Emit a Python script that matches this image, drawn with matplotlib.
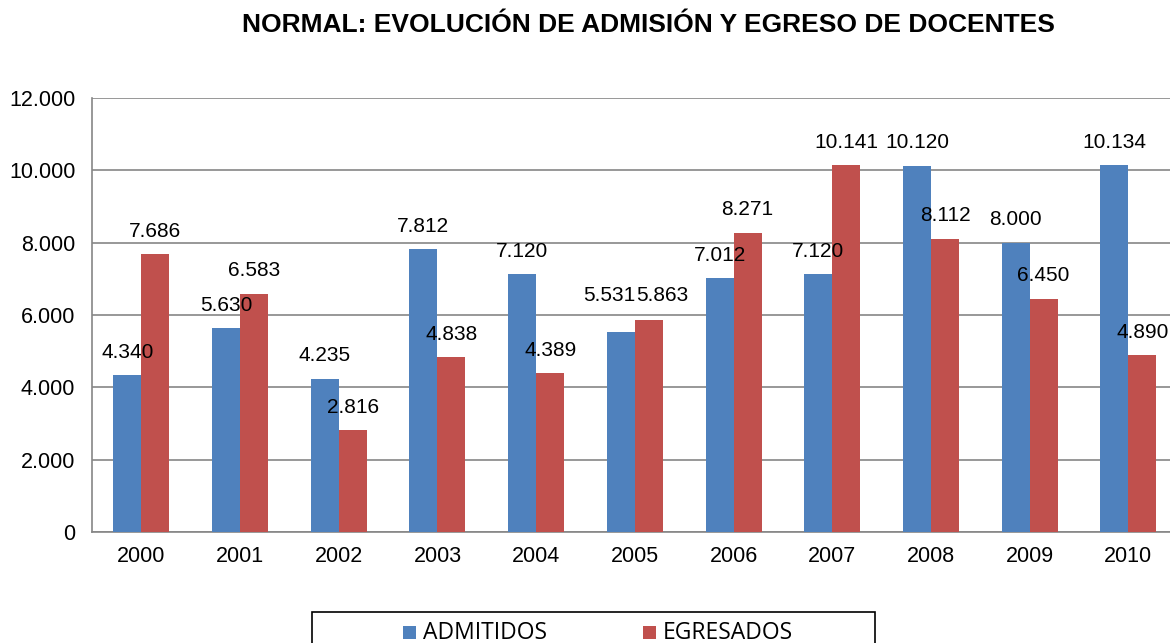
import matplotlib
matplotlib.use("Agg")
import matplotlib.pyplot as plt
from matplotlib.ticker import FuncFormatter, MultipleLocator
from matplotlib.patches import Rectangle
import numpy as np

plt.rcParams['font.family'] = ['Liberation Sans', 'DejaVu Sans']

title = "NORMAL: EVOLUCIÓN DE ADMISIÓN Y EGRESO DE DOCENTES"
years = ["2000", "2001", "2002", "2003", "2004", "2005", "2006", "2007", "2008", "2009", "2010"]
series_names = ["ADMITIDOS", "EGRESADOS"]
admitidos = [4340, 5630, 4235, 7812, 7120, 5531, 7012, 7120, 10120, 8000, 10134]
egresados = [7686, 6583, 2816, 4838, 4389, 5863, 8271, 10141, 8112, 6450, 4890]

colors = ["#4F81BD", "#C0504D"]

# label offsets in pixels (default above bar; 2005 moved manually in the original)
adm_dx = [0, 0, 0, 0, 0, -12, 0, 0, 0, 0, 0]
adm_dy = [23, 23, 23, 23, 23, 36, 23, 23, 23, 23, 23]
egr_dx = [0, 0, 0, 0, 0, 13, 0, 0, 0, 0, 0]
egr_dy = [23, 23, 23, 23, 23, 24, 23, 23, 23, 23, 23]

def fmt(v):
    return f"{int(v):,}".replace(",", ".")

fig = plt.figure(figsize=(11.70, 6.43), dpi=100)
ax = fig.add_axes([92/1170, 1-532/643, (11*98.7)/1170, (532-98)/643])

x = np.arange(len(years))
w = 0.284
ax.bar(x - w/2, admitidos, w, color=colors[0], zorder=3)
ax.bar(x + w/2, egresados, w, color=colors[1], zorder=3)

for i, v in enumerate(admitidos):
    ax.annotate(fmt(v), (x[i] - w/2, v), xytext=(adm_dx[i], adm_dy[i]),
                textcoords='offset pixels', ha='center', va='center', fontsize=15, color='black', zorder=5)
for i, v in enumerate(egresados):
    ax.annotate(fmt(v), (x[i] + w/2, v), xytext=(egr_dx[i], egr_dy[i]),
                textcoords='offset pixels', ha='center', va='center', fontsize=15, color='black', zorder=5)

ax.set_xlim(-0.5, len(years) - 0.5)
ax.set_ylim(0, 12000)
ax.yaxis.set_major_locator(MultipleLocator(2000))
ax.yaxis.set_major_formatter(FuncFormatter(lambda v, p: fmt(v)))
ax.set_xticks(x)
ax.set_xticklabels(years)
ax.tick_params(axis='both', length=0, labelsize=15.5, colors='black')
ax.tick_params(axis='x', pad=10)
ax.tick_params(axis='y', pad=12)
ax.grid(axis='y', color='#868686', linewidth=1.2, zorder=0)
for s in ['top', 'right']:
    ax.spines[s].set_visible(False)
for s in ['left', 'bottom']:
    ax.spines[s].set_color('#868686')
    ax.spines[s].set_linewidth(1.2)

fig.text(648/1170, 1-25/643, title, ha='center', va='center', fontsize=19, fontweight='bold')

# legend box (partially cut off at bottom)
fig.patches.append(Rectangle((312/1170, 1-660/643), (875-312)/1170, (660-612)/643,
                             transform=fig.transFigure, fill=False, edgecolor='black', linewidth=1.2))
leg_x = [403, 643]
for i, name in enumerate(series_names):
    fig.patches.append(Rectangle((leg_x[i]/1170, 1-639/643), 13/1170, 13/643,
                                 transform=fig.transFigure, facecolor=colors[i], edgecolor='none'))
    fig.text((leg_x[i] + 20)/1170, 1-639/643, name, ha='left', va='baseline', fontsize=16.5,
             family=['Open Sans', 'DejaVu Sans'])

fig.savefig("out.png", dpi=100)
